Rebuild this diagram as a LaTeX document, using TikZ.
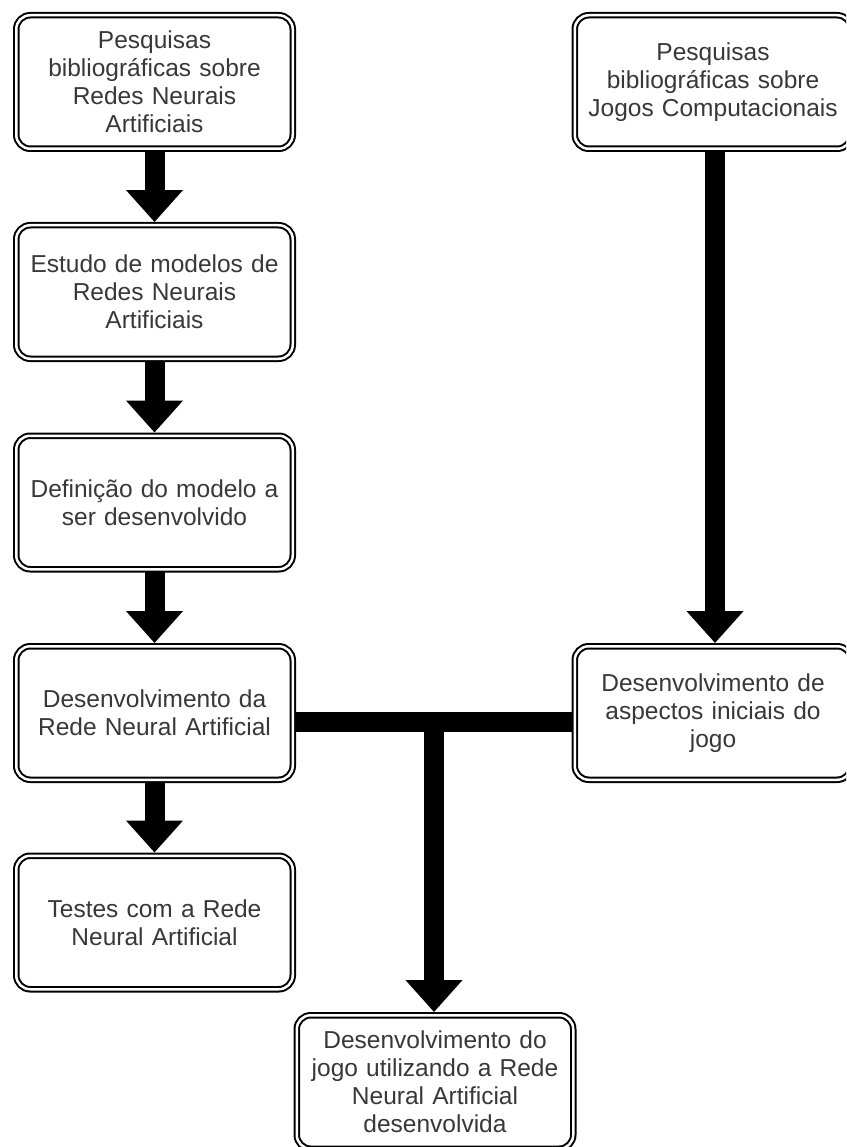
\documentclass[tikz,border=0pt]{standalone}
\usepackage{fontspec}
\setmainfont{Liberation Sans}
\usetikzlibrary{arrows.meta}
\tikzset{
  stepbox/.style={draw=black, fill=white, line width=2pt, double=white,
    double distance=2.5pt, rounded corners=14pt, minimum width=276.5pt,
    minimum height=133.5pt, text width=262pt, align=center, inner sep=0pt,
    outer sep=3.2pt, text=black!78,
    font=\fontsize{24.5}{28}\selectfont},
  flow/.style={line width=20pt, -{Triangle[width=55pt,length=32pt]}},
  bar/.style={line width=20pt}
}
\begin{document}
\begin{tikzpicture}[x=1pt,y=-1pt]
\path[use as bounding box] (0,0) rectangle (846,1147);
\clip (0,0) rectangle (846,1147);

% left column
\node[stepbox] (b1) at (154.5,82) {Pesquisas\\bibliográficas sobre\\Redes Neurais\\Artificiais};
\node[stepbox] (b2) at (154.5,292) {Estudo de modelos de\\Redes Neurais\\Artificiais};
\node[stepbox] (b3) at (154.5,502.5) {Definição do modelo a\\ser desenvolvido};
\node[stepbox] (b4) at (154.5,713) {Desenvolvimento da\\Rede Neural Artificial};
\node[stepbox] (b5) at (154.5,922.5) {Testes com a Rede\\Neural Artificial};

% right column
\node[stepbox] (r1) at (713,82) {Pesquisas\\bibliográficas sobre\\Jogos Computacionais};
\node[stepbox] (r2) at (713,713) {Desenvolvimento de\\aspectos iniciais do\\jogo};

% final step
\node[stepbox] (fin) at (435,1082) {Desenvolvimento do\\jogo utilizando a Rede\\Neural Artificial\\desenvolvida};

% sequence arrows
\draw[flow] (b1.south) -- (b2.north);
\draw[flow] (b2.south) -- (b3.north);
\draw[flow] (b3.south) -- (b4.north);
\draw[flow] (b4.south) -- (b5.north);
\draw[flow] ([xshift=2pt]r1.south) -- ([xshift=2pt]r2.north);

% joining bar and branch down to the final step
\coordinate (jl) at (b4.east |- 0,722);
\coordinate (jr) at (r2.west |- 0,722);
\coordinate (jm) at (434,722);
\draw[bar] (jl) -- (jr);
\draw[flow] ([yshift=-10pt]jm) -- (jm |- fin.north);
\end{tikzpicture}
\end{document}
